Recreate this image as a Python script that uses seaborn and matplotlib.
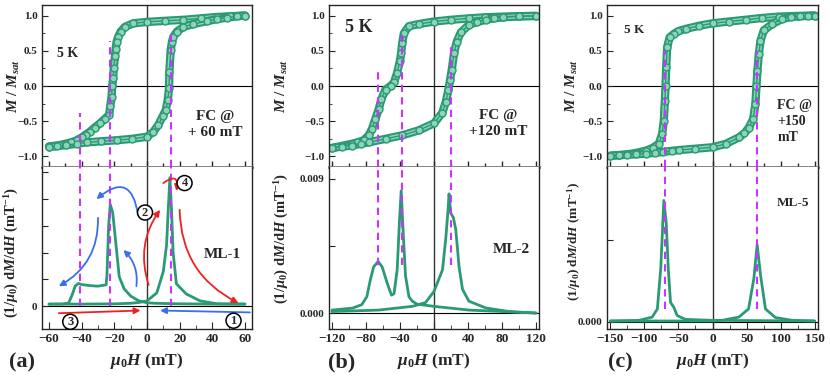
import numpy as np
import pandas as pd
import matplotlib
matplotlib.use("Agg")
from matplotlib import pyplot as plt
from matplotlib.ticker import MultipleLocator
import seaborn as sns

# ---------------- data ----------------
# (a) ML-1, FC @ +60 mT : M/Msat loop
a_dn_x = [60, 51, 42.7, 33, 22.3, 11, 0, -8.4, -13.5, -16.2, -17.6, -18.6, -19.2, -19.6, -20.4,
          -20.7, -21.3, -21.7, -22.5, -23.2, -26, -28.8, -32, -35, -37.5, -40, -43, -46.4, -50,
          -53.6, -57, -60]
a_dn_y = [1.0, 0.99, 0.98, 0.96, 0.94, 0.925, 0.91, 0.89, 0.84, 0.77, 0.70, 0.63, 0.53, 0.42,
          0.25, 0.11, 0.0, -0.15, -0.29, -0.41, -0.47, -0.53, -0.59, -0.65, -0.69, -0.73, -0.77,
          -0.80, -0.82, -0.84, -0.85, -0.86]
a_up_x = [-60, -55, -49.4, -43, -37, -28, -18.6, -9, 0, 3.9, 7, 9.6, 11.5, 12.7, 13.5, 13.7,
          14.5, 15.3, 16.2, 18.2, 22.3, 28.4, 36.6, 43, 49, 55, 60]
a_up_y = [-0.86, -0.85, -0.84, -0.82, -0.80, -0.785, -0.77, -0.75, -0.72, -0.65, -0.55, -0.43,
          -0.34, -0.2, -0.03, 0.2, 0.51, 0.63, 0.70, 0.77, 0.84, 0.88, 0.92, 0.95, 0.97, 0.99, 1.0]
# (a) dM/dH
a_d1_x = [60, 40, 20, 5, 0, -5, -10, -14, -17, -19, -21, -22.5, -23.5, -24.5, -25, -30, -35, -40,
          -42, -44, -46, -48, -52, -60]
a_d1_y = [0.0008, 0.0008, 0.0009, 0.0011, 0.0013, 0.002, 0.0038, 0.0065, 0.011, 0.023, 0.035,
          0.038, 0.030, 0.012, 0.008, 0.0075, 0.0077, 0.0081, 0.0085, 0.0075, 0.004, 0.0012,
          0.0008, 0.0008]
a_d2_x = [-60, -40, -20, -10, -5, 0, 6, 10, 12, 13, 14, 15, 16, 18, 24, 32.5, 43, 60]
a_d2_y = [0.0008, 0.0008, 0.0009, 0.0011, 0.0014, 0.002, 0.005, 0.013, 0.023, 0.036, 0.048,
          0.036, 0.02, 0.0084, 0.0046, 0.002, 0.0009, 0.0008]

# (b) ML-2, FC @ +120 mT
b_dn_x = [120, 100, 80.7, 60, 41, 20, 0, -17.7, -29.5, -35.4, -37.4, -38.6, -40.2, -43.3, -47,
          -51, -57, -62, -65, -69, -73, -76.8, -82.7, -90, -96.5, -108, -120]
b_dn_y = [0.995, 0.99, 0.985, 0.975, 0.96, 0.94, 0.915, 0.88, 0.85, 0.75, 0.61, 0.47, 0.35,
          0.19, 0.05, 0.0, -0.05, -0.19, -0.33, -0.47, -0.61, -0.70, -0.77, -0.80, -0.82, -0.85,
          -0.88]
b_up_x = [-120, -108, -96.5, -86, -76.8, -57, -37.4, -18, 0, 9.8, 13.8, 17, 19, 20.9, 23.6, 26.8,
          31.5, 41.3, 51, 61, 70, 80.7, 100, 120]
b_up_y = [-0.88, -0.86, -0.845, -0.82, -0.80, -0.75, -0.70, -0.63, -0.53, -0.38, -0.23, -0.05,
          0.09, 0.23, 0.47, 0.63, 0.76, 0.87, 0.91, 0.94, 0.96, 0.975, 0.99, 0.995]
b_d1_x = [120, 80.7, 41, 0, -20, -25.6, -29.5, -33.5, -36, -38.6, -40.5, -43.3, -47, -50, -55,
          -61, -65.7, -71, -75, -79, -85, -96, -120]
b_d1_y = [0.0, 0.0001, 0.0002, 0.00045, 0.0006, 0.0008, 0.0011, 0.0025, 0.0051, 0.0082, 0.0063,
          0.0029, 0.0013, 0.0012, 0.002, 0.0031, 0.00346, 0.0031, 0.0022, 0.0011, 0.00056,
          0.00033, 0.0002]
b_d2_x = [-120, -65, -25.6, -10, 0, 10, 14, 16.5, 17.7, 19.7, 22.8, 25.6, 29.5, 33.5, 41, 61,
          88.6, 120]
b_d2_y = [0.0001, 0.0002, 0.00045, 0.0007, 0.00145, 0.0029, 0.0051, 0.0069, 0.008, 0.0067,
          0.0064, 0.0056, 0.0031, 0.0016, 0.0008, 0.00034, 0.0001, 0.0]

# (c) ML-5, FC @ +150 mT
c_dn_x = [150, 125, 97, 72, 48.5, 24, 0, -20, -39.6, -50, -56.8, -63, -66.6, -68, -69, -70, -71.5,
          -74, -78.8, -88, -98.4, -112, -125, -138, -150]
c_dn_y = [1.0, 0.995, 0.985, 0.965, 0.94, 0.915, 0.89, 0.855, 0.81, 0.78, 0.74, 0.69, 0.55, 0.27,
          0.0, -0.21, -0.49, -0.68, -0.82, -0.88, -0.92, -0.95, -0.97, -0.98, -0.99]
c_up_x = [-150, -138, -125, -112, -98.4, -85, -72, -60, -49.4, -25, 0, 20, 38.7, 47, 53.4, 59.7,
          63, 64.6, 66, 68, 70.5, 75.4, 87.6, 102, 115, 128, 140, 150]
c_up_y = [-0.99, -0.985, -0.975, -0.97, -0.96, -0.95, -0.935, -0.92, -0.91, -0.89, -0.87, -0.82,
          -0.73, -0.67, -0.59, -0.47, -0.26, 0.0, 0.22, 0.45, 0.64, 0.79, 0.88, 0.95, 0.98, 0.99,
          0.995, 1.0]
c_d1_x = [150, 0, -40, -52, -56.8, -61.7, -65, -68, -71.5, -76, -81, -88.6, -108, -150]
c_d1_y = [0.00006, 0.0001, 0.00016, 0.0004, 0.0009, 0.0012, 0.0033, 0.0061, 0.00745, 0.0033,
          0.0008, 0.0003, 0.0001, 0.00006]
c_d2_x = [-150, 0, 14, 38.7, 53, 60.7, 65.6, 70.5, 77.8, 92.5, 117, 150]
c_d2_y = [0.00006, 0.00006, 0.0001, 0.0003, 0.0008, 0.00265, 0.00473, 0.0029, 0.0008, 0.00027,
          0.0001, 0.00006]

# magenta dashed guides: field (mT), top end in M/Msat panel, ends in dM/dH panel
a_marks = [-41, -22.5, 14.5]
a_marks_top = [-0.38, 0.64, 0.75]
b_marks = [-65.5, -38, 20]
b_marks_top = [0.24, 0.75, 0.62]
c_marks = [-70, 65]
c_marks_top = [0.5, 0.5]

# ---------------- style ----------------
sns.set_style("ticks")
plt.rcParams['font.family'] = ['Liberation Serif', 'DejaVu Serif']
plt.rcParams['font.weight'] = 'bold'
plt.rcParams['axes.labelweight'] = 'bold'
plt.rcParams['mathtext.fontset'] = 'custom'
plt.rcParams['mathtext.rm'] = 'Liberation Serif:bold'
plt.rcParams['mathtext.it'] = 'Liberation Serif:bold:italic'
plt.rcParams['mathtext.bf'] = 'Liberation Serif:bold'
plt.rcParams['axes.linewidth'] = 1.0

green = '#2a9a74'
light = '#8ed5b7'
mag = '#cc33ff'
red = '#f02020'
blue = '#3a6ef0'

fig = plt.figure(figsize=(8.3, 3.79), dpi=100)
W, H = 830., 379.


def box(x0, x1, y0, y1):
    return [x0 / W, 1 - y1 / H, (x1 - x0) / W, (y1 - y0) / H]


panels = [
    dict(x0=42, x1=252, xl=64.3, maj=20, mnr=10, loops=((a_dn_x, a_dn_y), (a_up_x, a_up_y)),
         der=((a_d1_x, a_d1_y), (a_d2_x, a_d2_y)), marks=a_marks, mtop=a_marks_top,
         lab_t=(-0.095, 0.5), lab_b=(-0.10, 0.475)),
    dict(x0=329, x1=539, xl=123.5, maj=40, mnr=20, loops=((b_dn_x, b_dn_y), (b_up_x, b_up_y)),
         der=((b_d1_x, b_d1_y), (b_d2_x, b_d2_y)), marks=b_marks, mtop=b_marks_top,
         lab_t=(-0.186, 0.5), lab_b=(-0.18, 0.56)),
    dict(x0=607, x1=818, xl=155, maj=50, mnr=25, loops=((c_dn_x, c_dn_y), (c_up_x, c_up_y)),
         der=((c_d1_x, c_d1_y), (c_d2_x, c_d2_y)), marks=c_marks, mtop=c_marks_top,
         lab_t=(-0.128, 0.5), lab_b=(-0.114, 0.54)),
]

tops, bots = [], []
for p in panels:
    axt = fig.add_axes(box(p['x0'], p['x1'], 5, 167))
    axb = fig.add_axes(box(p['x0'], p['x1'], 167, 329))
    tops.append(axt)
    bots.append(axb)

    for lx, ly in p['loops']:
        df = pd.DataFrame({'H': lx, 'M': ly})
        sns.lineplot(data=df, x='H', y='M', sort=False, estimator=None, ax=axt, color=green,
                     lw=6, solid_capstyle='round')
        sns.lineplot(data=df, x='H', y='M', sort=False, estimator=None, ax=axt, color=light,
                     lw=3, solid_capstyle='round')
    for lx, ly in p['loops']:
        df = pd.DataFrame({'H': lx, 'M': ly})
        sns.lineplot(data=df, x='H', y='M', sort=False, estimator=None, ax=axt, color=green,
                     lw=1.0, marker='o', markersize=5, markerfacecolor=light,
                     markeredgecolor=green, markeredgewidth=1.0)
    for lx, ly in p['der']:
        df = pd.DataFrame({'H': lx, 'D': ly})
        sns.lineplot(data=df, x='H', y='D', sort=False, estimator=None, ax=axb, color=green,
                     lw=2.0)

    for ax in (axt, axb):
        ax.set_xlim(-p['xl'], p['xl'])
        ax.axvline(0, color='#333333', lw=1.0, zorder=0)
        ax.axhline(0, color='black', lw=0.8, zorder=0)
        ax.xaxis.set_major_locator(MultipleLocator(p['maj']))
        ax.xaxis.set_minor_locator(MultipleLocator(p['mnr']))
        ax.set_xlabel('')

    axt.set_ylim(-1.15, 1.15)
    axt.set_yticks([-1.0, -0.5, 0.0, 0.5, 1.0])
    axt.yaxis.set_minor_locator(MultipleLocator(0.25))
    axt.tick_params(axis='y', which='both', direction='in', labelsize=8, right=False, pad=3)
    axt.tick_params(axis='y', which='major', length=4)
    axt.tick_params(axis='y', which='minor', length=2.5)
    axt.tick_params(axis='x', which='major', direction='inout', length=9, width=1,
                    labelbottom=False)
    axt.tick_params(axis='x', which='minor', direction='inout', length=6, width=1)
    axt.spines['bottom'].set_color('#777777')
    axt.spines['bottom'].set_linewidth(2)
    axb.spines['top'].set_visible(False)
    axb.tick_params(axis='x', which='major', direction='in', length=5, labelsize=9.5, pad=3)
    axb.tick_params(axis='x', which='minor', direction='in', length=3)
    axb.tick_params(axis='y', which='both', direction='in', labelsize=8)
    axb.tick_params(axis='y', which='major', length=4)
    axt.set_ylabel(r'$M$ / $M_{sat}$', fontsize=11)
    axt.yaxis.set_label_coords(*p['lab_t'])

    # magenta dashed guides in the loop panel
    for m, t in zip(p['marks'], p['mtop']):
        axt.plot([m, m], [-1.15, t], color=mag, ls=(0, (3.5, 2.5)), lw=1.5, zorder=3)

# ---- per-panel y scales for dM/dH ----
ax = bots[0]
ax.set_ylim(-0.0085, 0.052)
ax.set_yticks([0, 0.01, 0.02, 0.03, 0.04, 0.05])
ax.set_yticklabels(['0', '', '', '', '', ''])
ax = bots[1]
ax.set_ylim(-0.00107, 0.0098)
ax.set_yticks([0, 0.0045, 0.009])
ax.set_yticklabels(['0.000', '', '0.009'])
ax = bots[2]
ax.set_ylim(-0.00043, 0.0095)
ax.set_yticks([0, 0.005])
ax.set_yticklabels(['0.000', ''])

# ---- magenta dashed guides in dM/dH panels ----
dash = dict(color=mag, ls=(0, (3.5, 2.5)), lw=1.5, zorder=3)
for m in a_marks:
    bots[0].plot([m, m], [0, 0.052], **dash)
for m in b_marks:
    bots[1].plot([m, m], [0.0032, 0.0098], **dash)
for m in c_marks:
    bots[2].plot([m, m], [0.0008, 0.0095], **dash)

# ---- labels ----
tops[0].text(-55, 0.46, '5 K', fontsize=10, va='center', ha='left')
tops[0].text(42, -0.55, 'FC @\n+ 60 mT', fontsize=11, va='center', ha='center', linespacing=1.3)
tops[1].text(-105, 0.83, '5 K', fontsize=13, va='center', ha='left')
tops[1].text(75, -0.53, 'FC @\n+120 mT', fontsize=11, va='center', ha='center', linespacing=1.3)
tops[2].text(-130, 0.8, '5 K', fontsize=9.5, va='center', ha='left')
tops[2].text(121, -0.51, 'FC @\n+150\nmT', fontsize=10, va='center', ha='center',
             multialignment='left', linespacing=1.3)

bots[0].text(0.86, 0.46, 'ML-1', transform=bots[0].transAxes, fontsize=11, ha='center', va='center')
bots[1].text(0.87, 0.49, 'ML-2', transform=bots[1].transAxes, fontsize=11, ha='center', va='center')
bots[2].text(0.88, 0.78, 'ML-5', transform=bots[2].transAxes, fontsize=9.5, ha='center', va='center')

dlabel = r'(1/$\mu_0$) d$M$/d$H$ (mT$^{-1}$)'
for ax, sz, p in zip(bots, (10.5, 10.5, 9.5), panels):
    ax.set_ylabel(dlabel, fontsize=sz)
    ax.yaxis.set_label_coords(*p['lab_b'])

for ax, lab, xc in zip(bots, ('(a)', '(b)', '(c)'), (22, 342, 620)):
    fig.text(xc / W, 1 - 362 / H, lab, fontsize=16, ha='center', va='center')
for ax in bots:
    ax.set_xlabel(r'$\mu_0H$ (mT)', fontsize=12.5, labelpad=4)

# ---- sweep arrows in (a) ----
ax = bots[0]


def arrow(tail, head, col, rad=0.0):
    ax.annotate('', xy=head, xytext=tail,
                arrowprops=dict(arrowstyle='-|>', color=col, lw=1.3, mutation_scale=9,
                                shrinkA=0, shrinkB=0, connectionstyle=f'arc3,rad={rad}'))


arrow((-54, -0.0026), (-4, -0.0016), red)
arrow((63, -0.0023), (8, -0.0016), blue)
arrow((-5.5, 0.034), (-31, 0.04), blue, rad=0.9)
arrow((-30, 0.033), (-54, 0.0075), blue, rad=-0.3)
arrow((-6.5, 0.0075), (-14.5, 0.021), blue, rad=0.25)
arrow((1, 0.008), (8, 0.036), red, rad=-0.25)
arrow((10, 0.046), (18, 0.043), red, rad=-1.2)
arrow((20, 0.036), (56, 0.0012), red, rad=0.3)

circ = dict(boxstyle='circle,pad=0.12', fc='white', ec='black', lw=1.1)
ax.text(-47, -0.0058, '3', fontsize=9, ha='center', va='center', bbox=circ)
ax.text(53, -0.0054, '1', fontsize=9, ha='center', va='center', bbox=circ)
ax.text(-1.2, 0.035, '2', fontsize=9, ha='center', va='center', bbox=circ)
ax.text(23, 0.046, '4', fontsize=9, ha='center', va='center', bbox=circ)

fig.savefig('out.png', dpi=100)
